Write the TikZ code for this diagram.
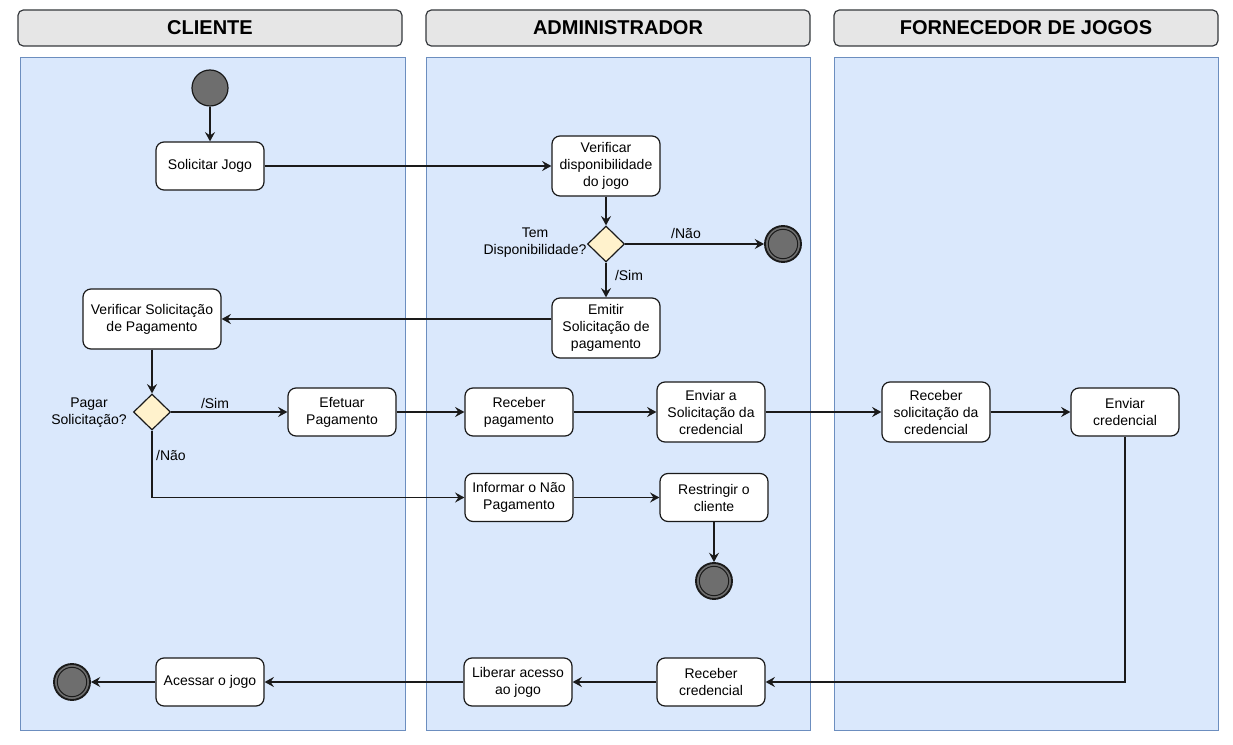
\documentclass[tikz,border=0pt]{standalone}
\usepackage{fontspec}
\setmainfont{Liberation Sans}
\usetikzlibrary{arrows.meta,positioning,shapes.geometric}
\definecolor{lanefill}{HTML}{DAE8FC}
\definecolor{laneline}{HTML}{6C8EBF}
\definecolor{headfill}{HTML}{E6E6E6}
\definecolor{headline}{HTML}{36393D}
\definecolor{decfill}{HTML}{FFF2CC}
\definecolor{dot}{HTML}{6E6E6E}
\definecolor{ink}{HTML}{1A1A1A}

\begin{document}
\begin{tikzpicture}[x=0.75pt, y=-0.75pt,
      lane/.style={draw=laneline, fill=lanefill, line width=0.75pt, minimum width=288pt, minimum height=504pt, inner sep=0pt},
      head/.style={draw=headline, fill=headfill, rounded corners=4pt, line width=0.9pt, minimum width=288pt, minimum height=27pt, font=\fontsize{15}{18}\selectfont\bfseries},
      act/.style={draw=ink, fill=white, rounded corners=6pt, line width=0.9pt, minimum width=81pt, minimum height=36pt, inner sep=2pt, align=center, font=\fontsize{10.5}{12.75}\selectfont},
      tall/.style={minimum height=45pt},
      dec/.style={diamond, draw=ink, fill=decfill, line width=0.9pt, inner sep=0pt, minimum width=27.75pt, minimum height=27pt},
      startst/.style={circle, draw=ink, fill=dot, line width=0.9pt, minimum size=27pt, inner sep=0pt},
      endst/.style={circle, draw=ink, fill=dot, line width=1.4pt, minimum size=27pt, inner sep=0pt,
        path picture={\draw[ink, line width=0.75pt] (path picture bounding box.center) circle (11pt);}},
      lbl/.style={align=center, font=\fontsize{10.5}{12.75}\selectfont, inner sep=1pt},
      arr/.style={-{Stealth[length=7pt, width=7.5pt, inset=2.5pt]}, line width=0.9pt, draw=ink}]
    \useasboundingbox (0,0) rectangle (1233,745);
    % lanes
    \node[head] (hCli) at (210,28) {CLIENTE};
    \node[head] (hAdm) at (618,28) {ADMINISTRADOR};
    \node[head] (hFor) at (1026,28) {FORNECEDOR DE JOGOS};
    \node[lane, minimum width=288.75pt] (lCli) at (212.5,394) {};
    \node[lane] (lAdm) at (618,394) {};
    \node[lane] (lFor) at (1026,394) {};
    % activities
    \node[startst] (inicio) at (210,88) {};
    \node[act] (solJogo) at (210,166) {Solicitar Jogo};
    \node[act, tall] (verDisp) at (606,166) {Verificar\\disponibilidade\\do jogo};
    \node[dec] (temDisp) at (606,244) {};
    \node[endst] (fimNao) at (783,244) {};
    \node[act, tall] (emitir) at (606,328) {Emitir\\Solicitação de\\pagamento};
    \node[act, tall, minimum width=103.5pt] (verPag) at (152,319) {Verificar Solicitação\\de Pagamento};
    \node[dec] (pagar) at (152,412) {};
    \node[act] (efetuar) at (342,412) {Efetuar\\Pagamento};
    \node[act] (recPag) at (519,412) {Receber\\pagamento};
    \node[act, tall] (envSol) at (711,412) {Enviar a\\Solicitação da\\credencial};
    \node[act, tall] (recSol) at (936,412) {Receber\\solicitação da\\credencial};
    \node[act] (envCred) at (1125,412) {Enviar\\credencial};
    \node[act] (infNao) at (519,497.5) {Informar o Não\\Pagamento};
    \node[act] (restr) at (714,497.5) {Restringir o\\cliente};
    \node[endst] (fimRestr) at (714,581) {};
    \node[act] (recCred) at (711,682) {Receber\\credencial};
    \node[act] (liberar) at (518,682) {Liberar acesso\\ao jogo};
    \node[act] (acessar) at (210,682) {Acessar o jogo};
    \node[endst] (fim) at (72,682) {};
    % guards
    \node[lbl] (qTem) at (535,243) {Tem\\Disponibilidade?};
    \node[lbl] (qPagar) at (89,413) {Pagar\\Solicitação?};
    \node[lbl] (tNao1) at (686,233) {/Não};
    \node[lbl] (tSim1) at (629,275) {/Sim};
    \node[lbl] (tSim2) at (215,403) {/Sim};
    \node[lbl] (tNao2) at (171,455) {/Não};
    % flows
    \draw[arr] (inicio) -- (solJogo);
    \draw[arr] (solJogo) -- (verDisp);
    \draw[arr] (verDisp) -- (temDisp);
    \draw[arr] (temDisp) -- (fimNao);
    \draw[arr] (temDisp) -- (emitir);
    \draw[arr] (emitir.west |- verPag.east) -- (verPag.east);
    \draw[arr] (verPag) -- (pagar);
    \draw[arr] (pagar) -- (efetuar);
    \draw[arr] (pagar.south) |- (infNao.west);
    \draw[arr] (efetuar) -- (recPag);
    \draw[arr] (recPag) -- (envSol);
    \draw[arr] (envSol) -- (recSol);
    \draw[arr] (recSol) -- (envCred);
    \draw[arr] (envCred.south) |- (recCred.east);
    \draw[arr] (recCred) -- (liberar);
    \draw[arr] (liberar) -- (acessar);
    \draw[arr] (acessar) -- (fim);
    \draw[arr] (infNao) -- (restr);
    \draw[arr] (restr) -- (fimRestr);
  \end{tikzpicture}
\end{document}
